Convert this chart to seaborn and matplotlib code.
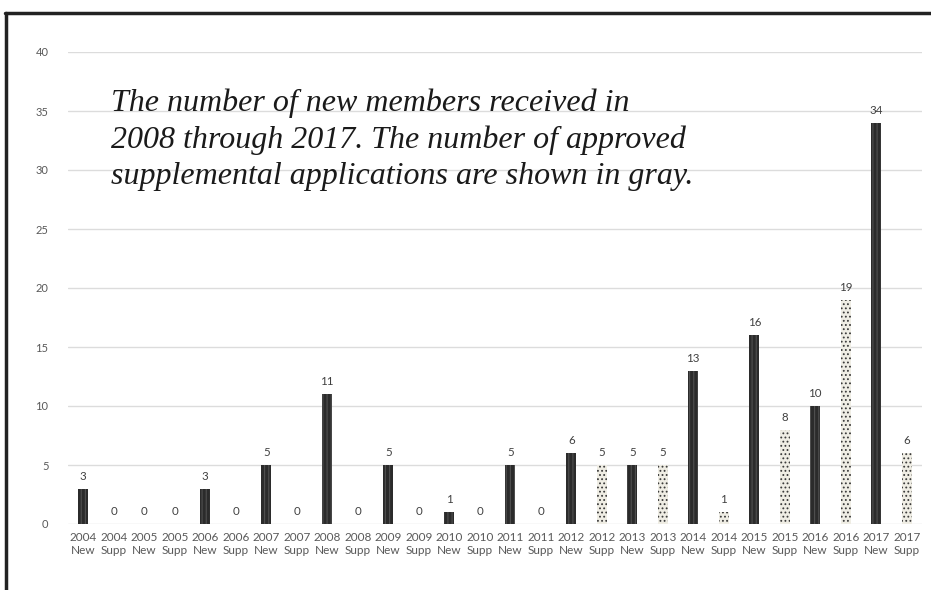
import matplotlib
matplotlib.use("Agg")
import matplotlib.pyplot as plt
import matplotlib.lines as mlines
import seaborn as sns
import pandas as pd

years = ["2004", "2004", "2005", "2005", "2006", "2006", "2007", "2007",
         "2008", "2008", "2009", "2009", "2010", "2010", "2011", "2011",
         "2012", "2012", "2013", "2013", "2014", "2014", "2015", "2015",
         "2016", "2016", "2017", "2017"]
kinds = ["New", "Supp"] * 14
values = [3, 0, 0, 0, 3, 0, 5, 0,
          11, 0, 5, 0, 1, 0, 5, 0,
          6, 5, 5, 5, 13, 1, 16, 8,
          10, 19, 34, 6]
caption_lines = ["The number of new members received in",
                 "2008 through 2017. The number of approved",
                 "supplemental applications are shown in gray."]
y_ticks = [0, 5, 10, 15, 20, 25, 30, 35, 40]

labels = [f"{y}\n{k}" for y, k in zip(years, kinds)]
df = pd.DataFrame({"label": labels, "kind": kinds, "value": values})

sns.set_theme(style="white")
plt.rcParams["font.family"] = ["Lato", "DejaVu Sans"]
plt.rcParams["hatch.linewidth"] = 0.8

W, H = 931, 590
fig = plt.figure(figsize=(W / 100, H / 100), dpi=100)
ax = fig.add_axes([68 / W, 1 - 524 / H, (922 - 68) / W, (524 - 52) / H])

palette = {"New": "#2b2b2b", "Supp": "#f1eee2"}
sns.barplot(data=df, x="label", y="value", hue="kind", order=labels,
            palette=palette, dodge=False, width=0.34, ax=ax, legend=False,
            linewidth=0)

for cont, kind in zip(ax.containers, ["New", "Supp"]):
    for p in cont:
        if kind == "New":
            p.set_hatch("||||")
            p.set_edgecolor("#505050")
        else:
            p.set_hatch("....")
            p.set_edgecolor("#3a3a3a")
        p.set_linewidth(0)
    ax.bar_label(cont, fmt="%d", padding=5, fontsize=8.3, color="#404040")

ax.set_ylim(0, 40)
ax.set_xlim(-0.5, len(labels) - 0.5)
ax.set_yticks(y_ticks)
ax.yaxis.grid(True, color="#dcdcdc", linewidth=1)
ax.set_axisbelow(True)
for s in ax.spines.values():
    s.set_visible(False)
ax.tick_params(axis="y", length=0, pad=14, labelsize=8, labelcolor="#595959")
ax.tick_params(axis="x", length=0, pad=6, labelsize=8.5, labelcolor="#595959")
ax.set_xlabel("")
ax.set_ylabel("")

baselines = [111, 148, 184]
for line, yb in zip(caption_lines, baselines):
    fig.text(111 / W, 1 - yb / H, line, fontsize=23, style="italic",
             family=["Liberation Serif", "DejaVu Serif"], color="#1a1a1a",
             va="baseline", ha="left")

fig.add_artist(mlines.Line2D([5 / W, 1], [1 - 13 / H, 1 - 13 / H],
                             transform=fig.transFigure, color="#222222", linewidth=2.5))
fig.add_artist(mlines.Line2D([6 / W, 6 / W], [0, 1 - 13 / H],
                             transform=fig.transFigure, color="#222222", linewidth=2.5))

fig.savefig("out.png", dpi=100)
